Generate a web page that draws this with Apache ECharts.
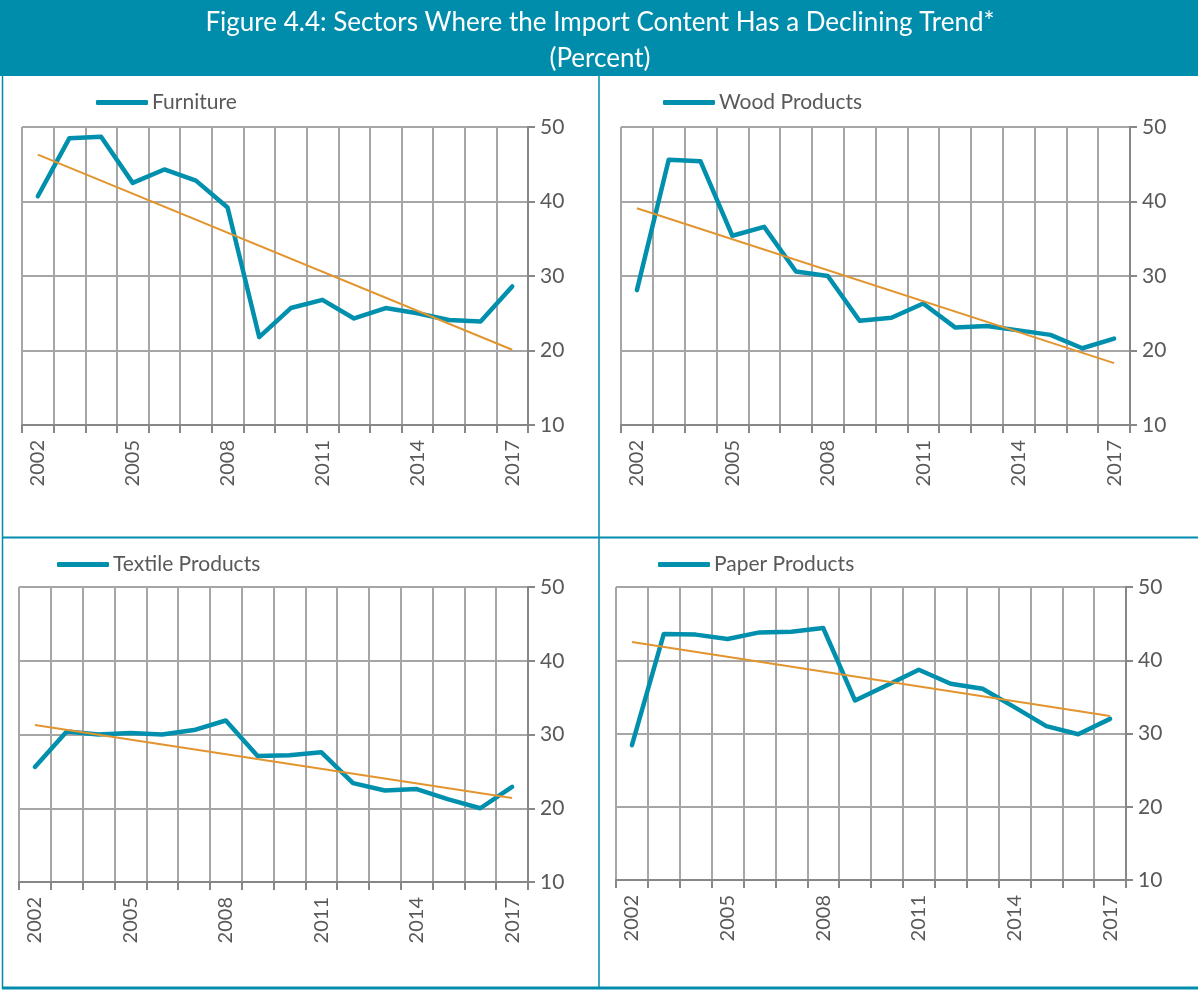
<!DOCTYPE html>
<html>
<head>
<meta charset="utf-8">
<script src="https://cdn.jsdelivr.net/npm/echarts@6/dist/echarts.min.js"></script>
<style>
html,body{margin:0;padding:0;background:#fff;}
#c{width:1198px;height:990px;}
</style>
</head>
<body>
<div id="c"></div>
<script>
const years = ['2002','2003','2004','2005','2006','2007','2008','2009','2010','2011','2012','2013','2014','2015','2016','2017'];
const yTicks = [10, 20, 30, 40, 50];

const furniture = [40.7, 48.5, 48.7, 42.5, 44.3, 42.8, 39.2, 21.8, 25.7, 26.8, 24.3, 25.7, 25.0, 24.1, 23.9, 28.6];
const wood      = [28.1, 45.6, 45.4, 35.4, 36.6, 30.6, 30.0, 24.0, 24.4, 26.3, 23.1, 23.3, 22.7, 22.1, 20.3, 21.6];
const textile   = [25.6, 30.4, 30.0, 30.2, 30.0, 30.6, 31.9, 27.1, 27.2, 27.6, 23.4, 22.4, 22.6, 21.2, 20.0, 22.9];
const paper     = [28.4, 43.6, 43.5, 42.9, 43.8, 43.9, 44.4, 34.5, 36.6, 38.7, 36.8, 36.1, 33.6, 31.0, 29.9, 32.0];

// trend line end points (2002 and 2017)
const furnitureTrend = [46.3, 20.1];
const woodTrend      = [39.1, 18.3];
const textileTrend   = [31.3, 21.4];
const paperTrend     = [42.5, 32.4];

const titleLines = ['Figure 4.4: Sectors Where the Import Content Has a Declining Trend*', '(Percent)'];

const panels = [
  {name: 'Furniture',        data: furniture, trend: furnitureTrend, grid: {left: 22,  top: 127, width: 506, height: 298}, legend: {left: 96,  top: 92}},
  {name: 'Wood Products',    data: wood,      trend: woodTrend,      grid: {left: 621, top: 127, width: 509, height: 298}, legend: {left: 663, top: 92}},
  {name: 'Textile Products', data: textile,   trend: textileTrend,   grid: {left: 19,  top: 587, width: 509, height: 295}, legend: {left: 57,  top: 554}},
  {name: 'Paper Products',   data: paper,     trend: paperTrend,     grid: {left: 616, top: 587, width: 510, height: 293}, legend: {left: 658, top: 554}}
];

const FONT = 'Lato, "Open Sans", sans-serif';
const TEAL = '#008CAB';
const LINE = '#0090AD';
const ORANGE = '#E2952F';
const GRIDC = '#A6A6A6';
const AXISC = '#878787';
const TEXTC = '#595959';

const grid = [], xAxis = [], yAxis = [], series = [], legend = [];
panels.forEach((p, i) => {
  grid.push(Object.assign({containLabel: false}, p.grid));
  xAxis.push({
    type: 'category', gridIndex: i, data: years, boundaryGap: true,
    axisLine: {show: true, lineStyle: {color: AXISC, width: 2}},
    axisTick: {show: true, interval: 0, length: 8, lineStyle: {color: AXISC, width: 2}},
    axisLabel: {interval: 2, rotate: 90, margin: 15, fontSize: 20, color: TEXTC, fontFamily: FONT},
    splitLine: {show: true, interval: 0, lineStyle: {color: GRIDC, width: 2}}
  });
  yAxis.push({
    type: 'value', gridIndex: i, position: 'right', min: 10, max: 50, interval: 10,
    axisLine: {show: true, lineStyle: {color: AXISC, width: 2}},
    axisTick: {show: true, length: 7, lineStyle: {color: AXISC, width: 2}},
    axisLabel: {margin: 12, fontSize: 21, color: TEXTC, fontFamily: FONT},
    splitLine: {show: true, lineStyle: {color: GRIDC, width: 2}}
  });
  series.push({
    name: p.name, type: 'line', xAxisIndex: i, yAxisIndex: i, data: p.data,
    symbol: 'none', lineStyle: {color: LINE, width: 4.5, cap: 'round', join: 'round'},
    itemStyle: {color: LINE}, z: 3
  });
  series.push({
    name: p.name + ' trend', type: 'line', xAxisIndex: i, yAxisIndex: i,
    data: years.map((y, k) => k === 0 ? p.trend[0] : (k === years.length - 1 ? p.trend[1] : null)),
    connectNulls: true, symbol: 'none',
    lineStyle: {color: ORANGE, width: 2}, itemStyle: {color: ORANGE}, z: 4
  });
  legend.push({
    data: [p.name], left: p.legend.left, top: p.legend.top, padding: 0,
    icon: 'roundRect', itemWidth: 52, itemHeight: 5, itemGap: 4,
    textStyle: {fontSize: 21, color: TEXTC, fontFamily: FONT, padding: [0, 0, 0, -1]},
    selectedMode: false
  });
});

const chart = echarts.init(document.getElementById('c'), null, {renderer: 'canvas'});
chart.setOption({
  animation: false,
  backgroundColor: '#ffffff',
  graphic: [
    {type: 'rect', shape: {x: 0, y: 0, width: 1198, height: 76}, style: {fill: TEAL}, z: -10},
    {type: 'text', x: 600, y: 23, style: {text: titleLines[0], fill: '#fff', font: '26px ' + FONT, align: 'center', verticalAlign: 'middle'}},
    {type: 'text', x: 600, y: 59, style: {text: titleLines[1], fill: '#fff', font: '26px ' + FONT, align: 'center', verticalAlign: 'middle'}},
    {type: 'line', shape: {x1: 2.5, y1: 76, x2: 2.5, y2: 989}, style: {stroke: TEAL, lineWidth: 1.5}},
    {type: 'line', shape: {x1: 599, y1: 76, x2: 599, y2: 989}, style: {stroke: TEAL, lineWidth: 1.5}},
    {type: 'line', shape: {x1: 2, y1: 537.5, x2: 1198, y2: 537.5}, style: {stroke: TEAL, lineWidth: 2}},
    {type: 'line', shape: {x1: 2, y1: 988, x2: 1198, y2: 988}, style: {stroke: TEAL, lineWidth: 3}}
  ],
  legend: legend,
  grid: grid,
  xAxis: xAxis,
  yAxis: yAxis,
  series: series
});
</script>
</body>
</html>
